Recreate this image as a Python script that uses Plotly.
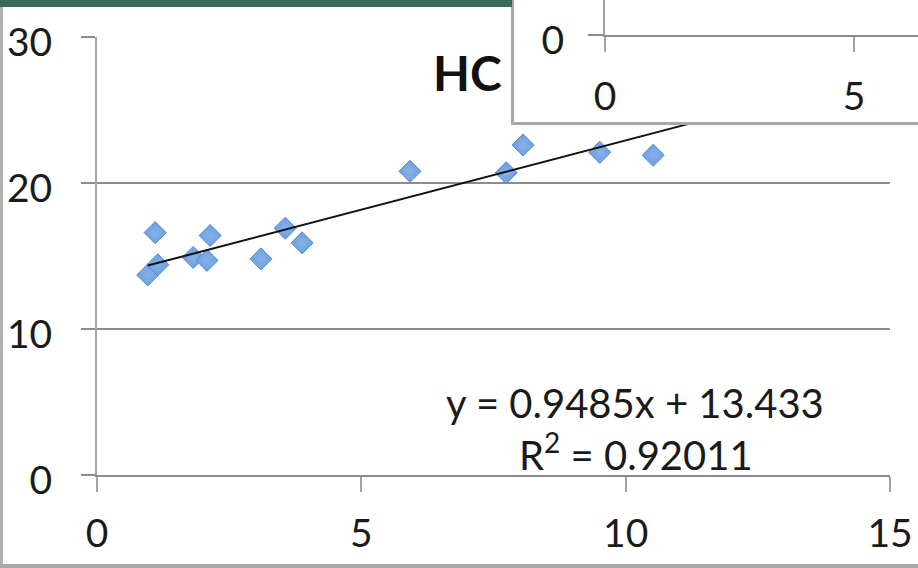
import plotly.graph_objects as go

W, H = 918, 568

# ---- data ----
hc_x = [0.96, 1.10, 1.15, 1.82, 2.08, 2.14, 3.10, 3.56, 3.88, 5.92, 7.74, 8.06, 9.51, 10.52]
hc_y = [13.7, 16.6, 14.4, 14.9, 14.7, 16.4, 14.8, 16.9, 15.9, 20.8, 20.7, 22.6, 22.1, 21.9]
trend_slope = 0.9485
trend_intercept = 13.433
trend_r2 = "0.92011"
trend_x_span = [0.96, 12.6]
title_text = "HC"
x_ticks = [0, 5, 10, 15]
y_ticks = [0, 10, 20, 30]
inset_x_ticks = [0, 5]
inset_y_ticks = [0]

FONT = "Lato"
TXT = "#1a1a1a"
GRID = "#8c8c8c"
AXIS = "#a3a3a3"


def fx(p):
    return p / W


def fy(p):
    return 1 - p / H


trend_y = [trend_slope * v + trend_intercept for v in trend_x_span]

fig = go.Figure()
fig.add_trace(go.Scatter(
    x=hc_x, y=hc_y, mode="markers", xaxis="x", yaxis="y",
    marker=dict(symbol="diamond", size=17, color="#6d9fdc",
                line=dict(color="#5a8bd2", width=1),
                gradient=dict(type="radial", color="#86b2e8")),
    showlegend=False, hoverinfo="skip"))
fig.add_trace(go.Scatter(
    x=trend_x_span, y=trend_y, mode="lines", xaxis="x", yaxis="y",
    line=dict(color="#111111", width=2), showlegend=False, hoverinfo="skip"))
# empty traces so the inset subplots exist
fig.add_trace(go.Scatter(x=[], y=[], xaxis="x2", yaxis="y2", showlegend=False))
fig.add_trace(go.Scatter(x=[], y=[], xaxis="x3", yaxis="y3", showlegend=False))

tickfont = dict(family=FONT, size=39, color=TXT)

fig.update_layout(
    width=W, height=H, margin=dict(l=0, r=0, t=0, b=0, autoexpand=False),
    paper_bgcolor="white", plot_bgcolor="white",
    xaxis=dict(domain=[fx(97), fx(890)], range=[0, 15], anchor="y",
               automargin=False,
               tickvals=x_ticks, ticktext=[str(v) for v in x_ticks],
               showgrid=False, zeroline=False, showline=True,
               linecolor=GRID, linewidth=2, ticks="outside", ticklen=15,
               tickwidth=2, tickcolor=AXIS, tickfont=tickfont,
               ticklabelstandoff=8),
    yaxis=dict(domain=[fy(475), fy(37)], range=[0, 30], anchor="x",
               automargin=False,
               tickvals=y_ticks, ticktext=[str(v) for v in y_ticks],
               showgrid=True, gridcolor=GRID, gridwidth=2, zeroline=False,
               showline=True, linecolor=AXIS, linewidth=2, ticks="outside",
               ticklen=14, tickwidth=2, tickcolor=GRID, tickfont=tickfont,
               ticklabelstandoff=21, ticklabelshift=5),
    # inset box
    xaxis2=dict(domain=[fx(514), 1], range=[0, 1], anchor="y2",
                automargin=False,
                showgrid=False, zeroline=False, showticklabels=False,
                showline=True, linecolor="#a8a8a8", linewidth=3, ticks=""),
    yaxis2=dict(domain=[fy(122), 1], range=[0, 1], anchor="x2",
                automargin=False,
                showgrid=False, zeroline=False, showticklabels=False,
                showline=True, linecolor="#a8a8a8", linewidth=3, ticks=""),
    # inset chart axes
    xaxis3=dict(domain=[fx(605), 1], range=[0, (918 - 605) / 49.8], anchor="y3",
                automargin=False,
                tickvals=inset_x_ticks, ticktext=[str(v) for v in inset_x_ticks],
                showgrid=False, zeroline=False, showline=True,
                linecolor=GRID, linewidth=2, ticks="outside", ticklen=15,
                tickwidth=2, tickcolor=AXIS, tickfont=tickfont,
                ticklabelstandoff=11),
    yaxis3=dict(domain=[fy(35), 1], range=[0, 10], anchor="x3",
                automargin=False,
                tickvals=inset_y_ticks, ticktext=[str(v) for v in inset_y_ticks],
                showgrid=False, zeroline=False, showline=True,
                linecolor=AXIS, linewidth=2, ticks="outside", ticklen=15,
                tickwidth=2, tickcolor=GRID, tickfont=tickfont,
                ticklabelstandoff=16, ticklabelshift=5),
    annotations=[
        dict(text="<b>%s</b>" % title_text, xref="paper", yref="paper",
             x=fx(467), y=fy(72), xanchor="center", yanchor="middle",
             showarrow=False, font=dict(family=FONT, size=48, color="#111")),
        dict(text="y = %sx + %s" % (trend_slope, trend_intercept),
             xref="paper", yref="paper", x=fx(635), y=fy(403),
             xanchor="center", yanchor="middle", showarrow=False,
             font=dict(family=FONT, size=40, color=TXT)),
        dict(text="R<sup>2</sup> = %s" % trend_r2,
             xref="paper", yref="paper", x=fx(636), y=fy(452),
             xanchor="center", yanchor="middle", showarrow=False,
             font=dict(family=FONT, size=40, color=TXT)),
    ],
    shapes=[
        dict(type="rect", xref="paper", yref="paper", x0=0, x1=fx(512),
             y0=fy(7), y1=1, fillcolor="#3c6a55", line=dict(width=0),
             layer="above"),
        dict(type="line", xref="paper", yref="paper", x0=fx(1.5), x1=fx(1.5),
             y0=0, y1=fy(7), line=dict(color="#b0b0b0", width=3),
             layer="above"),
        dict(type="line", xref="paper", yref="paper", x0=0, x1=1,
             y0=fy(566), y1=fy(566), line=dict(color="#a8a8a8", width=4),
             layer="above"),
    ],
)

fig.write_html("out.html")
